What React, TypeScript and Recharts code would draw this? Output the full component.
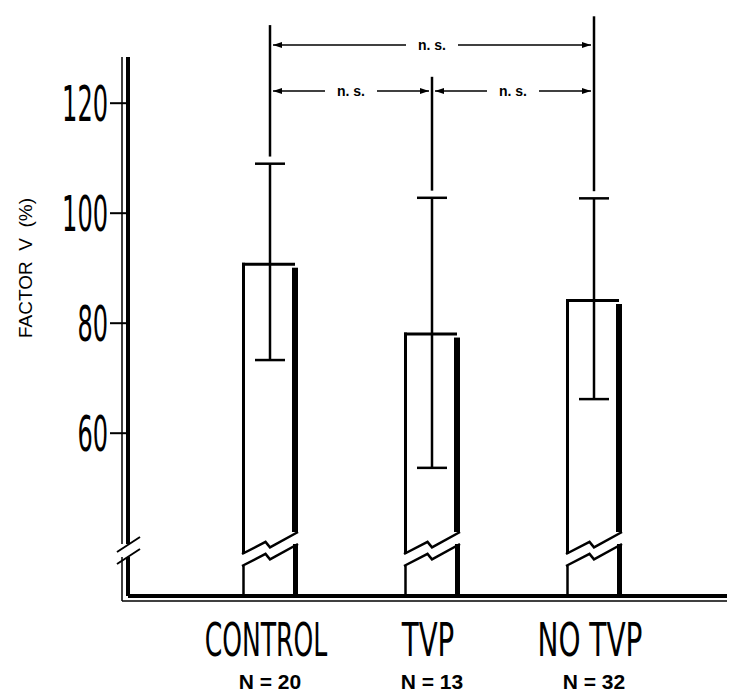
import {
  ComposedChart,
  Bar,
  ErrorBar,
  XAxis,
  YAxis,
  ReferenceLine,
} from 'recharts';

const categories = ['CONTROL', 'TVP', 'NO TVP'];
const sampleSizes = ['N = 20', 'N = 13', 'N = 32'];
const means = [91, 78.3, 84.4];
const lowerErr = [17.7, 24.6, 18.2];
const upperErr = [18.0, 24.5, 18.3];
const yTicks = [60, 80, 100, 120];

// significance brackets (value level on the y scale)
const comparisons = [
  { from: 'CONTROL', to: 'NO TVP', level: 130.6, label: 'n. s.' },
  { from: 'CONTROL', to: 'TVP', level: 122.2, label: 'n. s.' },
  { from: 'TVP', to: 'NO TVP', level: 122.2, label: 'n. s.' },
];
const connectorTops = [134.2, 124.8, 135.8];

const data = categories.map((name, i) => ({
  name,
  mean: means[i],
  err: [lowerErr[i], upperErr[i]],
}));

const W = 734;
const H = 698;
const RIGHT = 7;
const condensed = "'Liberation Sans Narrow', 'DejaVu Sans Condensed', 'Liberation Sans', sans-serif";

const BrokenBar = (props: any) => {
  const { x, y, width, height } = props;
  const bottom = y + height;
  const upL = bottom - 42;
  const upR = bottom - 64;
  const loL = bottom - 30;
  const loR = bottom - 52;
  const zig = (l: number, r: number) => {
    const rise = l - r;
    return `M${x},${l} L${x + width * 0.42},${l - rise * 0.55} L${x + width * 0.5},${l - rise * 0.3} L${x + width},${r}`;
  };
  return (
    <g>
      <rect x={x} y={y} width={width} height={height} fill="#fff" />
      <line x1={x + 1.5} y1={y} x2={x + 1.5} y2={upL} stroke="#000" strokeWidth={3} />
      <line x1={x + 1.5} y1={loL} x2={x + 1.5} y2={bottom} stroke="#000" strokeWidth={2.5} />
      <line x1={x} y1={y + 1.5} x2={x + width - 3} y2={y + 1.5} stroke="#000" strokeWidth={3} />
      <rect x={x + width - 6} y={y + 5} width={6} height={upR - y - 5} fill="#000" />
      <rect x={x + width - 5} y={loR} width={5} height={bottom - loR} fill="#000" />
      <path d={zig(upL, upR)} fill="none" stroke="#000" strokeWidth={2.5} />
      <path d={zig(loL, loR)} fill="none" stroke="#000" strokeWidth={2.5} />
    </g>
  );
};

const Bracket = (props: any) => {
  const { x1, y1, x2, label } = props;
  const mid = (x1 + x2) / 2;
  const a = 9;
  return (
    <g>
      <line x1={x1 + 3} y1={y1} x2={x2 - 3} y2={y1} stroke="#000" strokeWidth={1.5} />
      <polygon points={`${x1 + 3},${y1} ${x1 + 3 + a},${y1 - 3} ${x1 + 3 + a},${y1 + 3}`} fill="#000" />
      <polygon points={`${x2 - 3},${y1} ${x2 - 3 - a},${y1 - 3} ${x2 - 3 - a},${y1 + 3}`} fill="#000" />
      <rect x={mid - 26} y={y1 - 9} width={52} height={18} fill="#fff" />
      <text
        x={mid}
        y={y1 + 5}
        textAnchor="middle"
        fontFamily="'Liberation Sans', Arial, sans-serif"
        fontWeight="bold"
        fontSize={14}
        fill="#000"
      >
        {label}
      </text>
    </g>
  );
};

const YTick = ({ x, y, payload }: any) => {
  const s = String(payload.value);
  return (
    <text
      x={x}
      y={y}
      dy={18}
      textAnchor="end"
      fontFamily={condensed}
      fontSize={50}
      textLength={s.length * 15.3}
      lengthAdjust="spacingAndGlyphs"
      fill="#000"
    >
      {s}
    </text>
  );
};

const XTick = ({ x, y, payload, index }: any) => {
  const s = String(payload.value);
  return (
    <g>
      <text
        x={x - 4}
        y={y + 60}
        textAnchor="middle"
        fontFamily={condensed}
        fontSize={46}
        textLength={s.length * 17.5}
        lengthAdjust="spacingAndGlyphs"
        fill="#000"
      >
        {s}
      </text>
      <text
        x={x}
        y={y + 93}
        textAnchor="middle"
        fontFamily="'Liberation Sans', Arial, sans-serif"
        fontWeight="bold"
        fontSize={21}
        fill="#000"
      >
        {sampleSizes[index]}
      </text>
    </g>
  );
};

// y title plus the double frame line and the axis break marks
const yDecor = ({ viewBox }: any) => {
  const cx = viewBox.x + 25;
  const cy = viewBox.y + 211;
  const ax = viewBox.x + viewBox.width;
  const top = viewBox.y;
  const bottom = viewBox.y + viewBox.height;
  const thin = ax - 6;
  return (
    <g>
      <text
        x={cx}
        y={cy}
        transform={`rotate(-90, ${cx}, ${cy})`}
        textAnchor="middle"
        dominantBaseline="central"
        fontFamily="'Liberation Sans', Arial, sans-serif"
        fontSize={19}
        style={{ whiteSpace: 'pre' }}
        fill="#000"
      >
        {'FACTOR  V  (%)'}
      </text>
      <line x1={thin} y1={top} x2={thin} y2={bottom + 5} stroke="#000" strokeWidth={1.5} />
      <line x1={thin} y1={bottom + 5} x2={W - RIGHT} y2={bottom + 5} stroke="#000" strokeWidth={1.5} />
      <rect x={ax - 9} y={bottom - 52} width={14} height={13} fill="#fff" />
      <line x1={ax - 11} y1={bottom - 44} x2={ax + 12} y2={bottom - 59} stroke="#000" strokeWidth={2} />
      <line x1={ax - 11} y1={bottom - 32} x2={ax + 12} y2={bottom - 47} stroke="#000" strokeWidth={2} />
    </g>
  );
};

export default function App() {
  return (
    <div style={{ position: 'absolute', left: 0, top: 0, width: W, height: H, background: '#fff' }}>
      <ComposedChart
        width={W}
        height={H}
        data={data}
        margin={{ top: 57, right: RIGHT, bottom: 0, left: 0 }}
      >
        <XAxis
          dataKey="name"
          height={102}
          padding={{ left: 61, right: 52 }}
          tickLine={false}
          tickSize={0}
          tickMargin={0}
          axisLine={{ stroke: '#000', strokeWidth: 4 }}
          tick={<XTick />}
          interval={0}
        />
        <YAxis
          domain={[30.4, 128.4]}
          ticks={yTicks}
          width={128}
          tickSize={18}
          tickMargin={2}
          tickLine={{ stroke: '#000', strokeWidth: 2 }}
          axisLine={{ stroke: '#000', strokeWidth: 4 }}
          tick={<YTick />}
          label={yDecor}
        />
        <Bar dataKey="mean" barSize={56} shape={BrokenBar} isAnimationActive={false}>
          <ErrorBar dataKey="err" width={15} strokeWidth={2.5} stroke="#000" direction="y" isAnimationActive={false} />
        </Bar>

        {/* connectors from brackets down to error caps */}
        {categories.map((c, i) => (
          <ReferenceLine
            key={c}
            segment={[
              { x: c, y: connectorTops[i] },
              { x: c, y: means[i] + upperErr[i] + 1.3 },
            ]}
            stroke="#000"
            strokeWidth={2.5}
            ifOverflow="visible"
          />
        ))}

        {comparisons.map((cmp, i) => (
          <ReferenceLine
            key={i}
            segment={[
              { x: cmp.from, y: cmp.level },
              { x: cmp.to, y: cmp.level },
            ]}
            ifOverflow="visible"
            shape={(p: any) => <Bracket {...p} label={cmp.label} />}
          />
        ))}
      </ComposedChart>
    </div>
  );
}
